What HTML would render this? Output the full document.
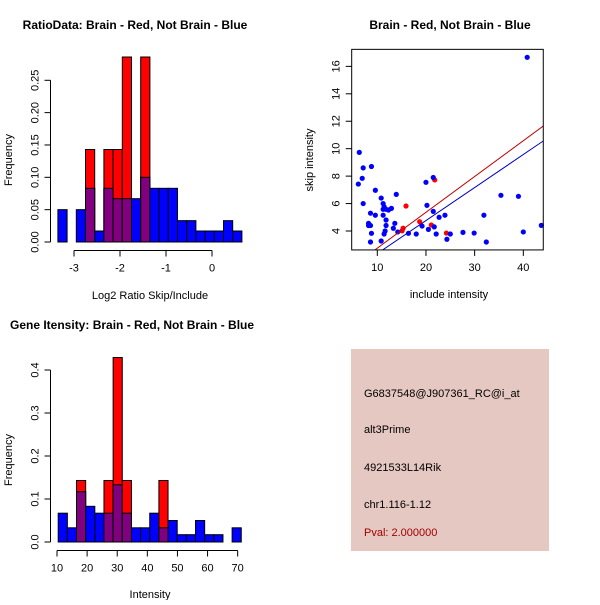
<!DOCTYPE html>
<html><head><meta charset="utf-8"><style>
body{margin:0;background:#fff}
svg text{font-family:"Liberation Sans",sans-serif;fill:#000}
</style></head><body>
<svg id="c" width="600" height="600" xmlns="http://www.w3.org/2000/svg">
<rect x="351" y="349" width="198" height="202" fill="#e6c8c2"/>
<text x="364" y="397" font-size="11">G6837548@J907361_RC@i_at</text>
<text x="364" y="433" font-size="11">alt3Prime</text>
<text x="364" y="471" font-size="11">4921533L14Rik</text>
<text x="364" y="508" font-size="11">chr1.116-1.12</text>
<text x="364" y="536" font-size="11" fill="#a00000" style="fill:#a00000">Pval: 2.000000</text>
</svg>
<script>
// Ratio histogram
const ratioStart=-3.35, ratioWidth=0.2;
const ratioBlue=[0.05,0,0.05,0.083,0.017,0.083,0.067,0.067,0.067,0.1,0.083,0.083,0.083,0.033,0.033,0.017,0.017,0.017,0.033,0.017];
const ratioRed=[0,0,0,0.143,0,0.143,0.143,0.286,0,0.286,0,0,0,0,0,0,0,0,0,0];
const ratioXTicks=[-3,-2,-1,0];
const ratioYTicks=[0,0.05,0.10,0.15,0.20,0.25];
const ratioYLabels=["0.00","0.05","0.10","0.15","0.20","0.25"];
// Intensity histogram
const intStart=10.4, intWidth=3.04;
const intBlue=[0.067,0.033,0.117,0.083,0.067,0.067,0.133,0.067,0.033,0.033,0.067,0.033,0.05,0.017,0.017,0.05,0.017,0.017,0,0.033];
const intRed=[0,0,0.143,0,0,0.143,0.429,0.143,0,0,0,0.143,0,0,0,0,0,0,0,0];
const intXTicks=[10,20,30,40,50,60,70];
const intYTicks=[0,0.1,0.2,0.3,0.4];
const intYLabels=["0.0","0.1","0.2","0.3","0.4"];
// Scatter
const blueX=[6.3,6.1,7.1,6.9,7.1,8.8,9.6,8.6,9.6,8.2,8.2,8.6,8.8,8.6,10.8,11.2,11.4,11.2,11.8,12.3,12.9,11.2,11.8,11.8,11.6,11.4,10.8,13.9,13.6,13.3,14.2,16.4,18.0,19.2,20.0,20.2,21.5,21.5,20.5,21.7,22.1,22.7,23.9,24.3,25.0,27.6,29.9,31.9,32.4,35.4,39.0,40.8,40.0,43.7];
const blueY=[9.73,7.42,8.6,7.84,6.0,8.7,6.97,5.3,5.15,4.56,4.4,4.4,3.83,3.2,6.4,6.0,5.77,5.58,5.58,5.53,5.65,5.15,4.8,4.4,4.0,3.78,3.27,6.67,4.56,4.2,3.93,3.83,3.78,4.36,7.55,5.87,7.9,5.43,4.12,4.3,3.78,5.0,5.15,3.4,3.78,3.9,3.85,5.15,3.2,6.6,6.53,16.66,3.93,4.41];
const redX=[15.9,15.3,15.1,18.7,21.8,21.1,24.2];
const redY=[5.82,4.2,4.02,4.68,7.72,4.44,3.85];
const redFit=[0.14,0.261];   // intercept, slope
const blueFit=[-0.05,0.2406];
const scXTicks=[10,20,30,40];
const scYTicks=[4,6,8,10,12,14,16];

const svg=document.getElementById('c');
const NS='http://www.w3.org/2000/svg';
function el(tag,attrs,parent){const e=document.createElementNS(NS,tag);for(const k in attrs)e.setAttribute(k,attrs[k]);(parent||svg).appendChild(e);return e;}
function txt(x,y,s,size,anchor,rot,weight){const t=el('text',{x:x,y:y,'font-size':size,'text-anchor':anchor||'middle'});if(rot)t.setAttribute('transform','rotate(-90 '+x+' '+y+')');if(weight)t.setAttribute('font-weight',weight);t.textContent=s;return t;}

function hist(o){
  const g=el('g',{});
  
  
  const X=v=>o.x0+(v-o.xa)*o.xs, Y=v=>o.y0-v*o.ys;
  for(let i=0;i<o.blue.length;i++){
    const a=X(o.start+i*o.w), b=X(o.start+(i+1)*o.w);
    const bl=o.blue[i], rd=o.red[i];
    if(bl>0){const r=el('rect',{x:a,y:Y(bl),width:b-a,height:Y(0)-Y(bl),fill:'#0000ff',stroke:'#000','stroke-width':1},g);
      }
    if(rd>0){const r=el('rect',{x:a,y:Y(rd),width:b-a,height:Y(0)-Y(rd),fill:'#ff0000',stroke:'#000','stroke-width':1},g);
      }
    const m=Math.min(bl,rd);
    if(m>0){const r=el('rect',{x:a,y:Y(m),width:b-a,height:Y(0)-Y(m),fill:'#800080',stroke:'#000','stroke-width':1},g);
      }
  }
  // y axis
  const yt=o.yticks;
  el('line',{x1:o.ax,y1:Y(yt[0]),x2:o.ax,y2:Y(yt[yt.length-1]),stroke:'#000'},g);
  yt.forEach((v,i)=>{el('line',{x1:o.ax-6,y1:Y(v),x2:o.ax,y2:Y(v),stroke:'#000'},g);txt(o.ax-12,Y(v)+0,o.ylab[i],11,'middle',true);});
  const xt=o.xticks;
  el('line',{x1:X(xt[0]),y1:o.ay,x2:X(xt[xt.length-1]),y2:o.ay,stroke:'#000'},g);
  xt.forEach(v=>{el('line',{x1:X(v),y1:o.ay,x2:X(v),y2:o.ay+6,stroke:'#000'},g);txt(X(v),o.ay+21,String(v),11);});
}
hist({name:'ratio-histogram',x0:74,xa:-3,xs:46,y0:242,ys:646.8,start:ratioStart,w:ratioWidth,blue:ratioBlue,red:ratioRed,yticks:ratioYTicks,ylab:ratioYLabels,xticks:ratioXTicks,ax:50.5,ay:250.5});
hist({name:'intensity-histogram',x0:57,xa:10,xs:3.011,y0:542,ys:430,start:intStart,w:intWidth,blue:intBlue,red:intRed,yticks:intYTicks,ylab:intYLabels,xticks:intXTicks,ax:50.5,ay:550.5});

txt(135,29,'RatioData: Brain - Red, Not Brain - Blue',12,'middle',false,'bold');
txt(12,160,'Frequency',11,'middle',true);
txt(150,299,'Log2 Ratio Skip/Include',11);
txt(10,329,'Gene Itensity: Brain - Red, Not Brain - Blue',12,'start',false,'bold');
txt(12,460,'Frequency',11,'middle',true);
txt(150,598,'Intensity',11);

// scatter
const sg=el('g',{});


const SX=v=>377.3+(v-10)*4.867, SY=v=>231-(v-4)*13.72;
const xmin=4.74,xmax=44.1,ymin=2.62,ymax=17.24;
const clip=el('clipPath',{id:'sc'},sg);el('rect',{x:SX(xmin),y:SY(ymax),width:SX(xmax)-SX(xmin),height:SY(ymin)-SY(ymax)},clip);
function fitLine(f,col,name){const l=el('line',{x1:SX(xmin),y1:SY(f[0]+f[1]*xmin),x2:SX(xmax),y2:SY(f[0]+f[1]*xmax),stroke:col,'stroke-width':1,'clip-path':'url(#sc)'},sg);
  }
redX.forEach((x,i)=>{const c=el('circle',{cx:SX(x),cy:SY(redY[i]),r:2.6,fill:'#ff0000'},sg);
  });
blueX.forEach((x,i)=>{const c=el('circle',{cx:SX(x),cy:SY(blueY[i]),r:2.6,fill:'#0000ff'},sg);
  });
fitLine(redFit,'#c00000','red-fit-line');
fitLine(blueFit,'#0000c0','blue-fit-line');
el('rect',{x:SX(xmin),y:SY(ymax),width:SX(xmax)-SX(xmin),height:SY(ymin)-SY(ymax),fill:'none',stroke:'#000'},sg);
scXTicks.forEach(v=>{el('line',{x1:SX(v),y1:SY(ymin),x2:SX(v),y2:SY(ymin)+6,stroke:'#000'},sg);txt(SX(v),SY(ymin)+21,String(v),11);});
scYTicks.forEach(v=>{el('line',{x1:SX(xmin)-6,y1:SY(v),x2:SX(xmin),y2:SY(v),stroke:'#000'},sg);txt(SX(xmin)-12,SY(v),String(v),11,'middle',true);});
txt(450,29,'Brain - Red, Not Brain - Blue',12,'middle',false,'bold');
txt(449,298,'include intensity',11);
txt(313,160,'skip intensity',11,'middle',true);
</script>
</body></html>
